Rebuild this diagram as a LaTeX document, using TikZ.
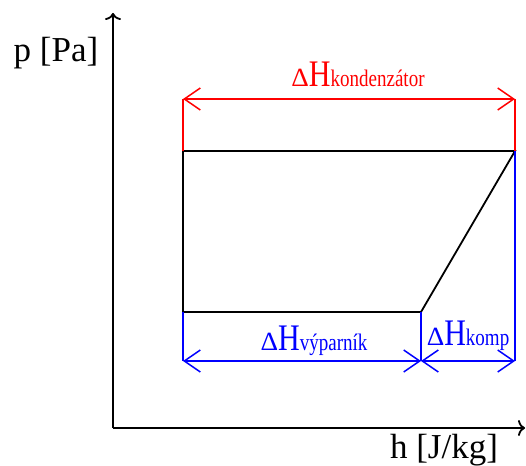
\documentclass[tikz,border=0pt]{standalone}
\usepackage{fontspec}
\setmainfont{Liberation Serif}
\usepackage{graphicx}
\usetikzlibrary{positioning,arrows.meta}

% label Delta H with a subscript word
\newcommand{\dHlabel}[1]{\scalebox{1}[1.25]{{\fontsize{21}{21}\selectfont\scalebox{1.3}[1]{Δ}}{\fontsize{30}{30}\selectfont H}{\fontsize{19}{19}\selectfont #1}}}

\begin{document}
\begin{tikzpicture}[x=1pt,y=-1pt,
    every node/.style={inner sep=0pt,anchor=base},
    axis/.style={line width=1.8pt,-{To[length=7pt,width=16pt]}},
    cycle/.style={line width=1.8pt,line join=miter},
    dim/.style={line width=1.5pt,{Straight Barb[length=16pt,width=22pt]}-{Straight Barb[length=16pt,width=22pt]}},
    ext/.style={line width=1.5pt}]
  \useasboundingbox (0,0) rectangle (526,465);
  % axes
  \coordinate (O) at (113,428);
  \coordinate (ytip) at (113,13);
  \coordinate (xtip) at (525,428);
  \draw[axis] (O) -- (ytip);
  \draw[axis] (O) -- (xtip);
  \node (plabel) at (56,62) {\fontsize{35}{35}\selectfont p [Pa]};
  \node (hlabel) at (444,458) {\fontsize{35}{35}\selectfont h [J/kg]};
  % cycle
  \coordinate (A) at (183,151);
  \coordinate (B) at (515,151);
  \coordinate (C) at (421,312);
  \coordinate (D) at (183,312);
  \draw[cycle] (A) -- (B) -- (C) -- (D) -- cycle;
  % condenser dimension
  \coordinate (r1) at (183,99);
  \coordinate (r2) at (515,99);
  \draw[red,ext] (A) -- (r1);
  \draw[red,ext] (B) -- (r2);
  \draw[red,dim] (r1) -- (r2);
  \node[red] (kond) at (358,87) {\dHlabel{kondenzátor}};
  % evaporator and compressor dimensions
  \coordinate (b1) at (183,361);
  \coordinate (b2) at (421,361);
  \coordinate (b3) at (515,361);
  \draw[blue,ext] (D) -- (b1);
  \draw[blue,ext] (C) -- (b2);
  \draw[blue,ext] (B) -- (b3);
  \draw[blue,dim] (b1) -- (b2);
  \draw[blue,dim] (b2) -- (b3);
  \node[blue] (vyp) at (314,350) {\dHlabel{výparník}};
  \node[blue] (komp) at (468,345) {\dHlabel{komp}};
\end{tikzpicture}
\end{document}
